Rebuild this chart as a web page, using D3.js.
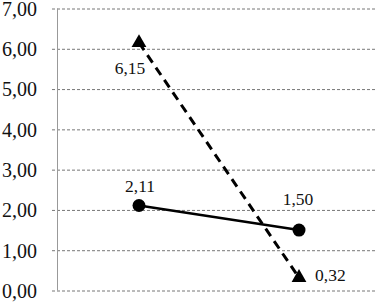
<!DOCTYPE html>
<html><head><meta charset="utf-8">
<script src="https://cdn.jsdelivr.net/npm/d3@7"></script>
</head><body style="margin:0">
<svg id="c" width="377" height="302"></svg>
<script>
const categories = ["A", "B"];
const seriesCircle = [2.11, 1.50];
const seriesTriangle = [6.15, 0.32];
const yTicks = [0, 1, 2, 3, 4, 5, 6, 7];

const svg = d3.select("#c").style("font-family", '"Liberation Serif"');
const W = 377, H = 302;
const axisX = 57;
const x = d3.scaleBand().domain(categories).range([59, 379]);
const y = d3.scaleLinear().domain([0, 7]).range([290.5, 8.5]);
const fmt = v => d3.format(".2f")(v).replace(".", ",");
const FONT = '"Liberation Serif"';

const yAxis = d3.axisLeft(y).tickValues(yTicks).tickFormat(fmt).tickSize(-(W - axisX));
const g = svg.append("g").attr("transform", `translate(${axisX},0)`).call(yAxis);
g.attr("font-family", null).style("font-family", FONT);
g.select(".domain").remove();
g.selectAll(".tick line").attr("stroke", "#777").attr("stroke-width", 1).attr("stroke-dasharray", "3,2").attr("x1", -5);
g.selectAll(".tick text").style("font-family", FONT).attr("font-size", 20).attr("fill", "#111").attr("x", -20).attr("dy", "0.34em");

svg.append("line").attr("x1", axisX + 0.5).attr("x2", axisX + 0.5)
  .attr("y1", y(7)).attr("y2", y(0)).attr("stroke", "#999").attr("stroke-width", 1);

const cx = c => x(c) + x.bandwidth() / 2;

const line = d3.line().x((d, i) => cx(categories[i])).y(d => y(d));
svg.append("path").datum(seriesCircle).attr("d", line).attr("fill", "none").attr("stroke", "#000").attr("stroke-width", 2.5);
svg.append("path").datum(seriesTriangle).attr("d", line).attr("fill", "none").attr("stroke", "#000").attr("stroke-width", 3).attr("stroke-dasharray", "9,6");

svg.selectAll(".circ").data(seriesCircle).enter().append("circle")
  .attr("cx", (d, i) => cx(categories[i])).attr("cy", d => y(d)).attr("r", 6.5).attr("fill", "#000");

const tri = d3.symbol().type(d3.symbolTriangle).size(95);
svg.selectAll(".tri").data(seriesTriangle).enter().append("path")
  .attr("d", tri).attr("transform", (d, i) => `translate(${cx(categories[i])},${y(d)})`).attr("fill", "#000");

const lab = (text, px, py, anchor) => svg.append("text").text(text).attr("x", px).attr("y", py)
  .attr("text-anchor", anchor).style("font-family", FONT).attr("font-size", 17.5).attr("fill", "#111");
lab(fmt(seriesCircle[0]), cx(categories[0]) + 1, y(seriesCircle[0]) - 13, "middle");
lab(fmt(seriesCircle[1]), cx(categories[1]) - 1, y(seriesCircle[1]) - 25, "middle");
lab(fmt(seriesTriangle[0]), cx(categories[0]) - 9, y(seriesTriangle[0]) + 31, "middle");
lab(fmt(seriesTriangle[1]), cx(categories[1]) + 16, y(seriesTriangle[1]) + 3, "start");
</script>
</body></html>
